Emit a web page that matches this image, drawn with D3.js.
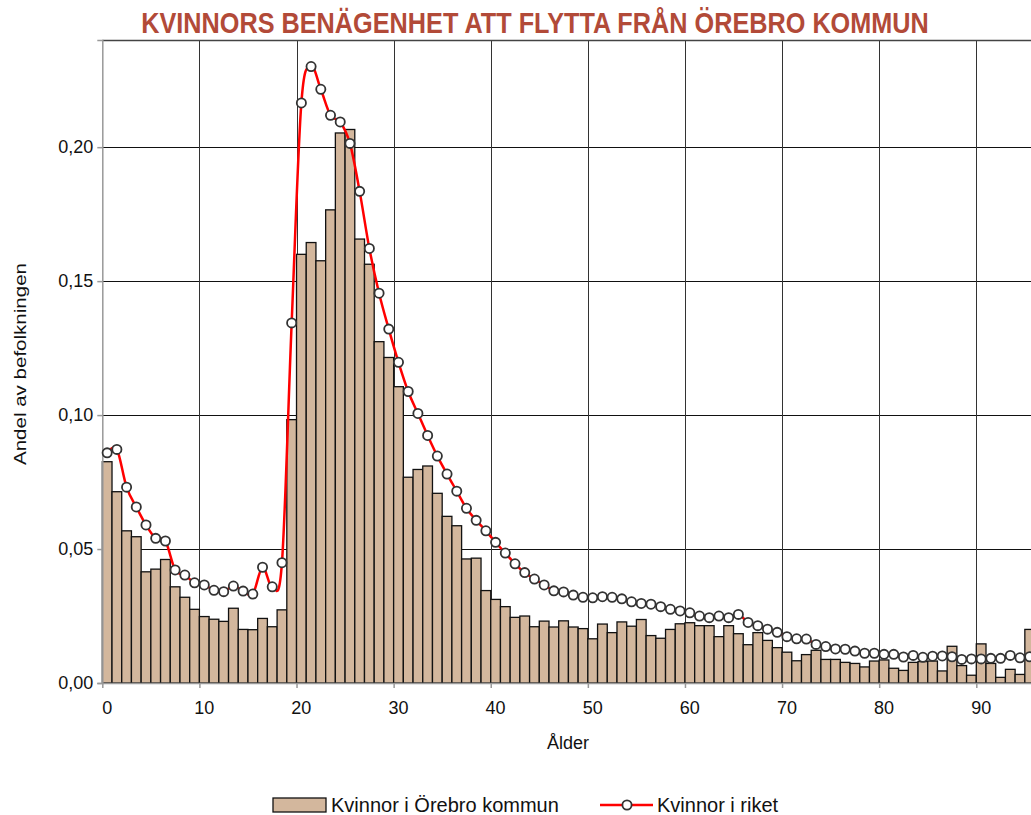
<!DOCTYPE html>
<html>
<head>
<meta charset="utf-8">
<script src="https://cdn.jsdelivr.net/npm/d3@7"></script>
<style>
  body { margin: 0; background: #fff; }
  text { font-family: "Liberation Sans", Arial, sans-serif; }
</style>
</head>
<body>
<div class="chart"></div>
<script>
const ages = d3.range(0, 96);
const orebro = [0.0826,0.0714,0.0568,0.0546,0.0415,0.0425,0.0461,0.0359,0.0320,0.0275,
  0.0248,0.0238,0.0230,0.0279,0.0200,0.0199,0.0241,0.0210,0.0273,0.0983,
  0.1600,0.1644,0.1576,0.1766,0.2053,0.2066,0.1657,0.1563,0.1274,0.1215,
  0.1106,0.0768,0.0797,0.0810,0.0708,0.0622,0.0587,0.0463,0.0466,0.0345,
  0.0312,0.0285,0.0245,0.0250,0.0210,0.0231,0.0209,0.0232,0.0209,0.0203,
  0.0165,0.0220,0.0188,0.0228,0.0212,0.0237,0.0177,0.0167,0.0200,0.0221,
  0.0225,0.0214,0.0214,0.0173,0.0214,0.0184,0.0143,0.0188,0.0159,0.0132,
  0.0115,0.0083,0.0106,0.0122,0.0088,0.0088,0.0077,0.0073,0.0060,0.0082,
  0.0086,0.0055,0.0047,0.0077,0.0080,0.0082,0.0045,0.0137,0.0065,0.0029,
  0.0146,0.0073,0.0021,0.0051,0.0032,0.0200];
const riket = [0.0859,0.0872,0.0731,0.0657,0.0590,0.0540,0.0530,0.0422,0.0403,0.0374,
  0.0366,0.0346,0.0341,0.0362,0.0343,0.0332,0.0432,0.0359,0.0449,0.1344,
  0.2165,0.2301,0.2216,0.2119,0.2094,0.2014,0.1835,0.1622,0.1455,0.1321,
  0.1197,0.1088,0.1006,0.0924,0.0847,0.0780,0.0716,0.0652,0.0607,0.0568,
  0.0525,0.0485,0.0445,0.0412,0.0388,0.0366,0.0344,0.0340,0.0328,0.0320,
  0.0318,0.0322,0.0320,0.0314,0.0303,0.0297,0.0294,0.0285,0.0275,0.0269,
  0.0262,0.0250,0.0244,0.0250,0.0244,0.0256,0.0226,0.0214,0.0201,0.0189,
  0.0173,0.0165,0.0164,0.0144,0.0136,0.0127,0.0126,0.0119,0.0111,0.0111,
  0.0107,0.0107,0.0097,0.0103,0.0096,0.0100,0.0101,0.0098,0.0088,0.0090,
  0.0090,0.0092,0.0092,0.0103,0.0094,0.0098];
const xTicks = [0, 10, 20, 30, 40, 50, 60, 70, 80, 90];
const yTicks = [0, 0.05, 0.10, 0.15, 0.20];

const width = 1031, height = 815;
const svg = d3.select(".chart").append("svg")
  .attr("width", width).attr("height", height);

const x = d3.scaleLinear().domain([0, 100]).range([102.3, 1073.4]);
const y = d3.scaleLinear().domain([0, 0.24]).range([683, 40]);
const fmt = d => d3.format(".2f")(d).replace(".", ",");

// gridlines
svg.append("g").selectAll("line.h")
  .data(yTicks.slice(1))
  .enter().append("line")
  .attr("x1", x(0)).attr("x2", width)
  .attr("y1", d => Math.round(y(d)) + 0.5).attr("y2", d => Math.round(y(d)) + 0.5)
  .attr("stroke", "#111").attr("stroke-width", 1);
svg.append("g").selectAll("line.v")
  .data(xTicks.slice(1))
  .enter().append("line")
  .attr("x1", d => Math.round(x(d)) + 0.5).attr("x2", d => Math.round(x(d)) + 0.5)
  .attr("y1", y(0.24)).attr("y2", y(0))
  .attr("stroke", "#333").attr("stroke-width", 1);
// top border
svg.append("line")
  .attr("x1", x(0)).attr("x2", width).attr("y1", 40.5).attr("y2", 40.5)
  .attr("stroke", "#444").attr("stroke-width", 1.5);

// bars
svg.append("g").selectAll("rect")
  .data(ages)
  .enter().append("rect")
  .attr("x", d => x(d))
  .attr("width", d => x(d + 1) - x(d))
  .attr("y", d => y(orebro[d]))
  .attr("height", d => y(0) - y(orebro[d]))
  .attr("fill", "#d3b79d")
  .attr("stroke", "#111")
  .attr("stroke-width", 1.3);

// axes
const yAxis = svg.append("g").attr("transform", `translate(${x(0)},0)`)
  .call(d3.axisLeft(y).tickValues(yTicks).tickFormat(fmt).tickSize(5).tickPadding(4));
yAxis.select(".domain").attr("stroke", "#999").attr("stroke-width", 1.5);
yAxis.selectAll(".tick line").attr("stroke", "#999").attr("stroke-width", 1.5);
yAxis.selectAll("text").attr("font-size", 18).attr("fill", "#111")
  .style("font-family", "'Liberation Sans', Arial, sans-serif");

const xAxis = svg.append("g").attr("transform", `translate(0,${y(0)})`)
  .call(d3.axisBottom(x).tickValues(xTicks).tickFormat("").tickSize(5).tickSizeOuter(0));
xAxis.select(".domain").attr("stroke", "#999").attr("stroke-width", 1.5);
xAxis.selectAll(".tick line").attr("stroke", "#999").attr("stroke-width", 1.5);
svg.append("g").selectAll("text")
  .data(xTicks)
  .enter().append("text")
  .attr("x", d => x(d + 0.5))
  .attr("y", 714)
  .attr("text-anchor", "middle")
  .attr("font-size", 18).attr("fill", "#111")
  .text(d => d);

// line
const line = d3.line()
  .x(d => x(d + 0.5))
  .y(d => y(riket[d]))
  .curve(d3.curveCatmullRom.alpha(0));
svg.append("path")
  .datum(ages)
  .attr("d", line)
  .attr("fill", "none")
  .attr("stroke", "#ff0000")
  .attr("stroke-width", 2.5);
svg.append("g").selectAll("circle")
  .data(ages)
  .enter().append("circle")
  .attr("cx", d => x(d + 0.5))
  .attr("cy", d => y(riket[d]))
  .attr("r", 4.6)
  .attr("fill", "#fff")
  .attr("stroke", "#333")
  .attr("stroke-width", 1.8);

// title: squeeze horizontally to the reference width with a real transform
const title = svg.append("text")
  .attr("text-anchor", "middle")
  .attr("font-size", 29).attr("font-weight", "bold")
  .attr("fill", "#b24a38")
  .style("font-family", "'Liberation Sans Narrow', 'Liberation Sans', Arial, sans-serif")
  .text("KVINNORS BENÄGENHET ATT FLYTTA FRÅN ÖREBRO KOMMUN");
const tw = title.node().getComputedTextLength();
title.attr("transform", `translate(535,33) scale(${788 / tw},1)`);

// axis titles
svg.append("text")
  .attr("x", 568).attr("y", 749)
  .attr("text-anchor", "middle")
  .attr("font-size", 18).attr("fill", "#111")
  .text("Ålder");
svg.append("text")
  .attr("transform", "translate(26,364) rotate(-90)")
  .attr("text-anchor", "middle")
  .attr("font-size", 17).attr("fill", "#111")
  .attr("textLength", 202).attr("lengthAdjust", "spacingAndGlyphs")
  .text("Andel av befolkningen");

// legend
const lg = svg.append("g");
lg.append("rect")
  .attr("x", 273).attr("y", 798).attr("width", 53).attr("height", 14)
  .attr("fill", "#d3b79d").attr("stroke", "#111").attr("stroke-width", 1.3);
lg.append("text")
  .attr("x", 331).attr("y", 812)
  .attr("font-size", 20).attr("fill", "#111")
  .text("Kvinnor i Örebro kommun");
lg.append("line")
  .attr("x1", 600).attr("x2", 653).attr("y1", 805).attr("y2", 805)
  .attr("stroke", "#ff0000").attr("stroke-width", 2.5);
lg.append("circle")
  .attr("cx", 627).attr("cy", 805).attr("r", 4.6)
  .attr("fill", "#fff").attr("stroke", "#333").attr("stroke-width", 1.8);
lg.append("text")
  .attr("x", 657).attr("y", 812)
  .attr("font-size", 20).attr("fill", "#111")
  .text("Kvinnor i riket");
</script>
</body>
</html>
